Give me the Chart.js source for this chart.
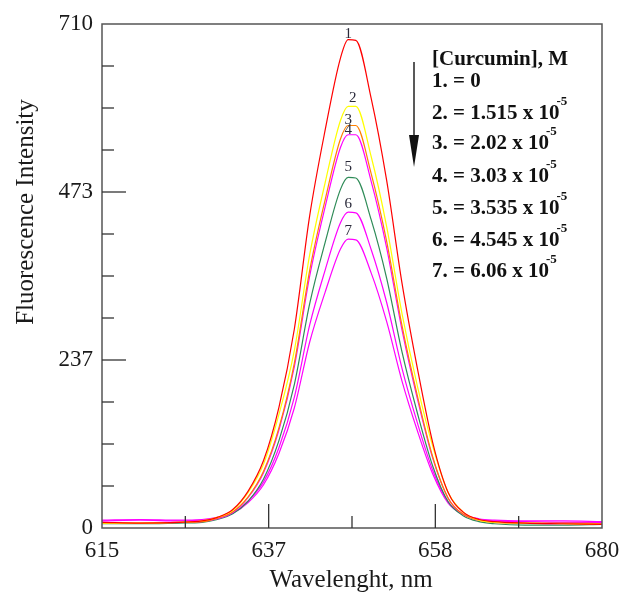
<!DOCTYPE html>
<html>
<head>
<meta charset="utf-8">
<script src="https://cdn.jsdelivr.net/npm/chart.js@4.4.1/dist/chart.umd.min.js"></script>
<style>
  body { margin: 0; background: #fff; }
  #wrap { width: 625px; height: 594px; }
</style>
</head>
<body>
<div id="wrap"><canvas id="spectra" width="625" height="594"></canvas></div>
<script>
// emission spectra
const wavelength = [615, 620, 625, 628, 630, 632, 634, 636, 638, 640, 642, 644, 646, 647, 648, 650, 652, 654, 656, 658, 660, 662, 664, 666, 670, 675, 680];
const curve1 = [8, 7, 8, 10, 15, 26, 52, 95, 170, 280, 440, 560, 662, 688, 687, 605, 490, 345, 225, 120, 50, 22, 12, 9, 7, 6, 5];
const curve2 = [7, 7, 8, 10, 15, 25, 50, 90, 160, 250, 385, 486, 574, 594, 594, 523, 425, 302, 200, 115, 50, 22, 11, 8, 7, 6, 5];
const curve3 = [7, 7, 8, 9, 14, 23, 44, 80, 141, 232, 363, 462, 548, 567, 567, 499, 404, 285, 186, 100, 42, 19, 11, 8, 7, 7, 6];
const curve4 = [8, 7, 8, 9, 13, 22, 43, 78, 138, 227, 355, 452, 536, 554, 554, 488, 395, 279, 182, 98, 42, 19, 11, 8, 7, 6, 6];
const curve5 = [6, 6, 7, 8, 12, 20, 38, 69, 123, 202, 316, 402, 477, 494, 493, 434, 352, 248, 162, 87, 37, 17, 9, 6, 4, 4, 5];
const curve6 = [10, 11, 10, 11, 14, 21, 38, 65, 113, 184, 286, 363, 430, 445, 444, 392, 318, 225, 148, 81, 37, 19, 12, 10, 9, 8, 8];
const curve7 = [11, 12, 11, 12, 15, 21, 36, 61, 105, 169, 262, 332, 393, 407, 406, 359, 291, 207, 137, 76, 35, 19, 13, 11, 10, 10, 9];

const curveNames = ['1', '2', '3', '4', '5', '6', '7'];
const curveColors = ['#ff0000', '#ffff00', '#ff8000', '#ff00ff', '#2e8b57', '#ff00ff', '#ff00ff'];
const concentrations = ['0', '1.515 x 10', '2.02 x 10', '3.03 x 10', '3.535 x 10', '4.545 x 10', '6.06 x 10'];

const xTickValues = [615, 615 + 65 / 3, 615 + 130 / 3, 680];
const xTickLabels = ['615', '637', '658', '680'];
const yTickValues = [0, 710 / 3, 1420 / 3, 710];
const yTickLabels = ['0', '237', '473', '710'];

const allCurves = [curve1, curve2, curve3, curve4, curve5, curve6, curve7];
const labelX = [647, 647.6, 647, 647, 647, 647, 647];
const labelLift = [4, 7, 4, 3, 9, 7, 7];

const serif = '"Liberation Serif", "Times New Roman", serif';

const datasets = allCurves.map((c, i) => ({
    label: curveNames[i],
    data: c.map((v, k) => ({ x: wavelength[k], y: v })),
    borderColor: curveColors[i],
    borderWidth: 1.2,
    pointRadius: 0,
    fill: false,
    cubicInterpolationMode: 'monotone'
}));

const decor = {
    id: 'decor',
    afterDraw(chart) {
        const ctx = chart.ctx;
        const a = chart.chartArea;
        const xs = chart.scales.x, ys = chart.scales.y;
        ctx.save();

        // frame
        ctx.strokeStyle = '#555';
        ctx.lineWidth = 1.5;
        ctx.strokeRect(a.left, a.top, a.right - a.left, a.bottom - a.top);

        // inward ticks, major and minor
        ctx.strokeStyle = '#333';
        ctx.lineWidth = 1.3;
        for (let k = 1; k < 6; k++) {
            const px = xs.getPixelForValue(615 + k * 65 / 6);
            const len = k % 2 === 0 ? 24 : 12;
            ctx.beginPath(); ctx.moveTo(px, a.bottom); ctx.lineTo(px, a.bottom - len); ctx.stroke();
        }
        for (let k = 1; k < 12; k++) {
            const py = ys.getPixelForValue(k * 710 / 12);
            const len = k % 4 === 0 ? 24 : 12;
            ctx.beginPath(); ctx.moveTo(a.left, py); ctx.lineTo(a.left + len, py); ctx.stroke();
        }

        // axis titles
        ctx.fillStyle = '#1a1a1a';
        ctx.font = '25px ' + serif;
        ctx.textAlign = 'center';
        ctx.textBaseline = 'middle';
        ctx.fillText('Wavelenght, nm', 351, 580);
        ctx.save();
        ctx.translate(26, 212);
        ctx.rotate(-Math.PI / 2);
        ctx.fillText('Fluorescence Intensity', 0, 0);
        ctx.restore();

        // curve numbers above the peaks
        ctx.font = '15px ' + serif;
        ctx.fillStyle = '#2a2a3a';
        ctx.textBaseline = 'bottom';
        allCurves.forEach((c, i) => {
            const px = xs.getPixelForValue(labelX[i]);
            const py = ys.getPixelForValue(Math.max(...c)) - labelLift[i] + 6;
            ctx.fillText(curveNames[i], px, py);
        });

        // arrow
        ctx.strokeStyle = '#222';
        ctx.fillStyle = '#111';
        ctx.lineWidth = 1.5;
        ctx.beginPath(); ctx.moveTo(414, 62); ctx.lineTo(414, 140); ctx.stroke();
        ctx.beginPath();
        ctx.moveTo(409, 135); ctx.lineTo(419, 135); ctx.lineTo(414, 167); ctx.closePath();
        ctx.fill();

        // concentration key
        ctx.fillStyle = '#111';
        ctx.textAlign = 'left';
        ctx.textBaseline = 'middle';
        ctx.font = 'bold 21px ' + serif;
        ctx.fillText('[Curcumin], M', 432, 60);
        const rows = [82, 114, 144, 177, 209, 241, 272];
        concentrations.forEach((txt, i) => {
            ctx.font = 'bold 21px ' + serif;
            const s = (i + 1) + '. = ' + txt;
            ctx.fillText(s, 432, rows[i]);
            if (i > 0) {
                const w = ctx.measureText(s).width;
                ctx.font = 'bold 13px ' + serif;
                ctx.fillText('-5', 432 + w - 3, rows[i] - 12);
            }
        });
        ctx.restore();
    }
};

new Chart(document.getElementById('spectra'), {
    type: 'line',
    data: { datasets },
    options: {
        responsive: false,
        devicePixelRatio: 1,
        animation: false,
        layout: { padding: { top: 24, right: 23, left: 0, bottom: 0 } },
        plugins: { legend: { display: false }, tooltip: { enabled: false } },
        scales: {
            x: {
                type: 'linear',
                min: 615,
                max: 680,
                grid: { display: false },
                border: { display: false },
                afterBuildTicks: (s) => { s.ticks = xTickValues.map(v => ({ value: v })); },
                afterFit: (s) => { s.height = 66; s.paddingLeft = 0; s.paddingRight = 0; },
                ticks: {
                    padding: 1,
                    color: '#1a1a1a',
                    font: { family: serif, size: 23 },
                    maxRotation: 0,
                    autoSkip: false,
                    callback: (v, i) => xTickLabels[i]
                }
            },
            y: {
                min: 0,
                max: 710,
                grid: { display: false },
                border: { display: false },
                afterBuildTicks: (s) => { s.ticks = yTickValues.map(v => ({ value: v })); },
                afterFit: (s) => { s.width = 102; s.paddingTop = 0; s.paddingBottom = 0; },
                ticks: {
                    padding: 1,
                    color: '#1a1a1a',
                    font: { family: serif, size: 23 },
                    autoSkip: false,
                    callback: (v, i) => yTickLabels[i]
                }
            }
        }
    },
    plugins: [decor]
});
</script>
</body>
</html>
